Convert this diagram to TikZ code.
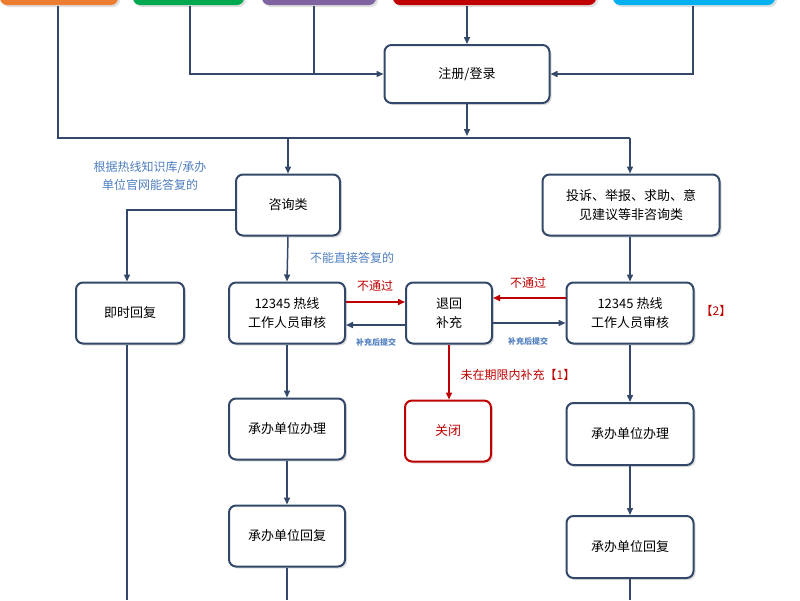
\documentclass[tikz,border=0pt]{standalone}
\usepackage{fontspec}
\setmainfont{Noto Sans CJK SC}
\usetikzlibrary{arrows.meta,shadows}
\definecolor{bd}{HTML}{34496A}
\definecolor{lb}{HTML}{4F7FBF}
\definecolor{rd}{HTML}{C00000}
\begin{document}
\begin{tikzpicture}[x=1pt,y=-1pt,
 box/.style={draw=bd,line width=2pt,rounded corners=7pt,fill=white,drop shadow={opacity=0.25,shadow xshift=2pt,shadow yshift=-2pt},font=\fontsize{13}{19}\selectfont,align=center,inner sep=0pt},
 ln/.style={draw=bd,line width=1.5pt},
 ar/.style={ln,-{Triangle[length=7pt,width=6pt]}},
 rar/.style={draw=rd,line width=1.5pt,-{Triangle[length=7pt,width=6pt]}},
 lab/.style={text=lb,font=\fontsize{12}{18}\selectfont,align=center},
 slab/.style={text=lb,font=\bfseries\fontsize{8}{10}\selectfont},
 rlab/.style={text=rd,font=\fontsize{12}{16}\selectfont}]
\useasboundingbox (0,0) rectangle (800,600);
\clip (0,0) rectangle (800,600);
\fill[white] (0,0) rectangle (800,600);
% top coloured boxes
\node[box,draw=none,fill={rgb,255:red,237;green,125;blue,49},minimum width=118pt,minimum height=30pt] (o) at (59,-10) {};
\node[box,draw=none,fill={rgb,255:red,0;green,168;blue,80},minimum width=111pt,minimum height=30pt] (g) at (188.5,-10) {};
\node[box,draw=none,fill={rgb,255:red,128;green,100;blue,162},minimum width=114pt,minimum height=30pt] (p) at (319,-10) {};
\node[box,draw=none,fill={rgb,255:red,192;green,0;blue,0},minimum width=203pt,minimum height=30pt] (r) at (494.5,-10) {};
\node[box,draw=none,fill={rgb,255:red,0;green,176;blue,240},minimum width=162pt,minimum height=30pt] (b) at (694,-10) {};
% nodes
\node[box,minimum width=165pt,minimum height=58pt] (reg) at (467,74) {注册/登录};
\node[box,minimum width=104pt,minimum height=61pt] (zx) at (288,205) {咨询类};
\node[box,minimum width=177pt,minimum height=61pt] (ts) at (631,205) {投诉、举报、求助、意\\见建议等非咨询类};
\node[box,minimum width=108pt,minimum height=61pt] (js) at (130,313) {即时回复};
\node[box,minimum width=116pt,minimum height=61pt] (sl) at (287,313) {12345 热线\\工作人员审核};
\node[box,minimum width=86pt,minimum height=61pt] (th) at (449,313) {退回\\补充};
\node[box,minimum width=127pt,minimum height=61pt] (sr) at (630,313) {12345 热线\\工作人员审核};
\node[box,draw=rd,text=rd,minimum width=86pt,minimum height=61pt] (gb) at (448,431) {关闭};
\node[box,minimum width=116pt,minimum height=61pt] (bl) at (287,429) {承办单位办理};
\node[box,minimum width=116pt,minimum height=61pt] (hl) at (287,536) {承办单位回复};
\node[box,minimum width=127pt,minimum height=62pt] (br) at (630,434) {承办单位办理};
\node[box,minimum width=127pt,minimum height=62pt] (hr) at (630,547) {承办单位回复};
% coordinates
\coordinate (bus) at (58,138);
\coordinate (busR) at (630,138);
\coordinate (e1) at (127,600);
\coordinate (e2) at (287,600);
\coordinate (e3) at (630,600);
% top connectors
\draw[ln] (o.south -| bus) -- (bus) -- (busR);
\draw[ar] (g.south -| 190,0) |- (reg.west);
\draw[ln] (p.south -| 314,0) -- (314,74);
\draw[ar] (r.south -| reg.north) -- (reg.north);
\draw[ar] (b.south -| 693,0) |- (reg.east);
\draw[ar] (reg.south) -- (467,136);
\draw[ar] (288,138) -- (zx.north);
\draw[ar] (busR) -- (ts.north -| busR);
% left column
\draw[ar] (zx.west |- 0,210) -| (js.north -| 127,0);
\draw[ar] (zx.south) -- (sl.north);
\draw[ar] (sl.south) -- (bl.north);
\draw[ar] (bl.south) -- (hl.north);
\draw[ln] (hl.south) -- (e2);
\draw[ln] (js.south -| e1) -- (e1);
% right column
\draw[ar] (ts.south -| sr.north) -- (sr.north);
\draw[ar] (sr.south) -- (br.north);
\draw[ar] (br.south) -- (hr.north);
\draw[ln] (hr.south) -- (e3);
% middle
\draw[rar] (sl.east |- 0,302) -- (th.west |- 0,302);
\draw[ar] (th.west |- 0,325) -- (sl.east |- 0,325);
\draw[rar] (sr.west |- 0,298) -- (th.east |- 0,298);
\draw[ar] (th.east |- 0,323) -- (sr.west |- 0,323);
\draw[rar] (th.south) -- (th.south |- gb.north);
% labels
\node[lab] (l1) at (150,176) {根据热线知识库/承办\\单位官网能答复的};
\node[lab] (l2) at (352,258) {不能直接答复的};
\node[rlab] (l3) at (375,286) {不通过};
\node[rlab] (l4) at (528,283) {不通过};
\node[slab] (l5) at (376,342) {补充后提交};
\node[slab] (l6) at (528,341) {补充后提交};
\node[rlab] (l7) at (518,375) {未在期限内补充【1】};
\node[rlab] (l8) at (716,311) {【2】};
\end{tikzpicture}
\end{document}
